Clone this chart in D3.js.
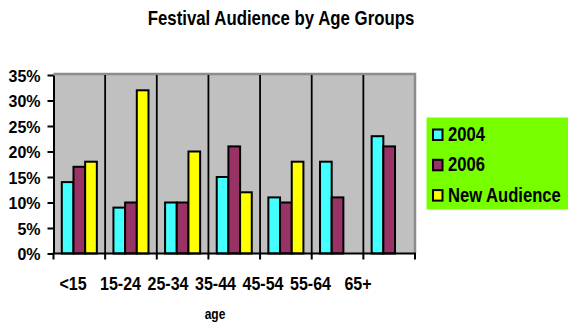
<!DOCTYPE html>
<html>
<head>
<meta charset="utf-8">
<script src="https://cdn.jsdelivr.net/npm/d3@7"></script>
<style>
  html, body { margin: 0; padding: 0; background: #fff; }
  svg { display: block; }
  text { font-family: "Liberation Sans", Arial, sans-serif; font-weight: bold; fill: #000; }
</style>
</head>
<body>
<svg id="chart" width="568" height="323"></svg>
<script>
// Audience share per age group
const categories = ["<15", "15-24", "25-34", "35-44", "45-54", "55-64", "65+"];
const seriesNames = ["2004", "2006", "New Audience"];
const values2004 = [14, 9, 10, 15, 11, 18, 23];
const values2006 = [17, 10, 10, 21, 10, 11, 21];
const valuesNew = [18, 32, 20, 12, 18, null, null];
const yTicks = [0, 5, 10, 15, 20, 25, 30, 35];
const colors = ["#44ffff", "#993366", "#ffff00"];

const seriesValues = [values2004, values2006, valuesNew];
const rows = [];
categories.forEach((c, i) => {
  seriesNames.forEach((s, j) => {
    const v = seriesValues[j][i];
    if (v != null) rows.push({ cat: c, series: s, value: v, color: colors[j] });
  });
});

const svg = d3.select("#chart");
const plot = { left: 53.5, right: 415, top: 75, bottom: 253.5 };

const x0 = d3.scaleBand().domain(categories).range([plot.left, plot.right]).padding(0);
const x1 = d3.scaleBand().domain(seriesNames).range([0, x0.bandwidth()])
  .paddingInner(0).paddingOuter(0.71);
const y = d3.scaleLinear().domain([0, 35]).range([plot.bottom, plot.top]);

// Title
svg.append("g").attr("transform", "translate(281,25)")
  .append("text").attr("text-anchor", "middle").attr("font-size", 16.8)
  .attr("transform", "scale(1,1.15)")
  .text("Festival Audience by Age Groups");

// Plot background with grey top/right frame
svg.append("rect")
  .attr("x", plot.left).attr("y", plot.top - 1)
  .attr("width", plot.right - plot.left).attr("height", plot.bottom - plot.top + 1)
  .attr("fill", "#c0c0c0");
svg.append("path")
  .attr("d", `M${plot.left},${plot.top - 1}H${plot.right}V${plot.bottom}`)
  .attr("fill", "none").attr("stroke", "#8c8c8c").attr("stroke-width", 2.5);

// Vertical separators between categories
svg.append("g").selectAll("line")
  .data(categories.slice(1))
  .join("line")
  .attr("x1", d => x0(d)).attr("x2", d => x0(d))
  .attr("y1", plot.top).attr("y2", plot.bottom)
  .attr("stroke", "#000").attr("stroke-width", 1.8);

// Bars
svg.append("g").selectAll("rect")
  .data(rows)
  .join("rect")
  .attr("x", d => x0(d.cat) + x1(d.series))
  .attr("y", d => y(d.value))
  .attr("width", x1.bandwidth())
  .attr("height", d => y(0) - y(d.value))
  .attr("fill", d => d.color)
  .attr("stroke", "#000").attr("stroke-width", 2);

// Y axis
const yAxis = svg.append("g")
  .attr("transform", `translate(${plot.left},0)`)
  .call(d3.axisLeft(y).tickValues(yTicks).tickFormat(d => d + "%").tickSize(6).tickSizeOuter(0));
yAxis.select(".domain").attr("stroke", "#000").attr("stroke-width", 2);
yAxis.selectAll(".tick line").attr("stroke", "#000").attr("stroke-width", 2);
yAxis.selectAll(".tick text")
  .attr("x", -13).attr("dy", "0.36em")
  .attr("font-size", 16).attr("font-family", "Liberation Sans, Arial, sans-serif")
  .attr("font-weight", "bold").attr("fill", "#000")
  .attr("transform", "scale(1,1.07)");

// X axis line with ticks at category boundaries
const xEdges = categories.map(c => x0(c)).concat([plot.right]);
const xAxis = svg.append("g");
xAxis.append("line")
  .attr("x1", plot.left - 1).attr("x2", plot.right + 1)
  .attr("y1", plot.bottom).attr("y2", plot.bottom)
  .attr("stroke", "#000").attr("stroke-width", 2);
xAxis.selectAll("line.tk")
  .data(xEdges)
  .join("line").attr("class", "tk")
  .attr("x1", d => d).attr("x2", d => d)
  .attr("y1", plot.bottom).attr("y2", plot.bottom + 6)
  .attr("stroke", "#000").attr("stroke-width", 2);

// Category labels
const xLabel = d3.scaleBand().domain(categories).range([49.25, 381.75]);
svg.append("g").selectAll("g")
  .data(categories)
  .join("g")
  .attr("transform", d => `translate(${xLabel(d) + xLabel.bandwidth() / 2},290)`)
  .append("text")
  .attr("text-anchor", "middle").attr("font-size", 16)
  .attr("transform", "scale(1,1.13)")
  .text(d => d);

// Axis title
svg.append("g").attr("transform", "translate(215,319)")
  .append("text").attr("text-anchor", "middle").attr("font-size", 12)
  .attr("transform", "scale(1,1.15)")
  .text("age");

// Legend
const legend = svg.append("g");
legend.append("rect")
  .attr("x", 426.5).attr("y", 117.5).attr("width", 142).attr("height", 92)
  .attr("fill", "#77ff00");
const legendRows = legend.selectAll("g.item")
  .data(seriesNames)
  .join("g").attr("class", "item")
  .attr("transform", (d, i) => `translate(432,${141 + i * 30.3})`);
legendRows.append("rect")
  .attr("x", 1).attr("y", -11.5).attr("width", 9.5).attr("height", 10.5)
  .attr("fill", (d, i) => colors[i])
  .attr("stroke", "#000").attr("stroke-width", 2);
legendRows.append("text")
  .attr("x", 16).attr("font-size", 16.6)
  .attr("transform", "scale(1,1.17)")
  .text(d => d);
</script>
</body>
</html>
